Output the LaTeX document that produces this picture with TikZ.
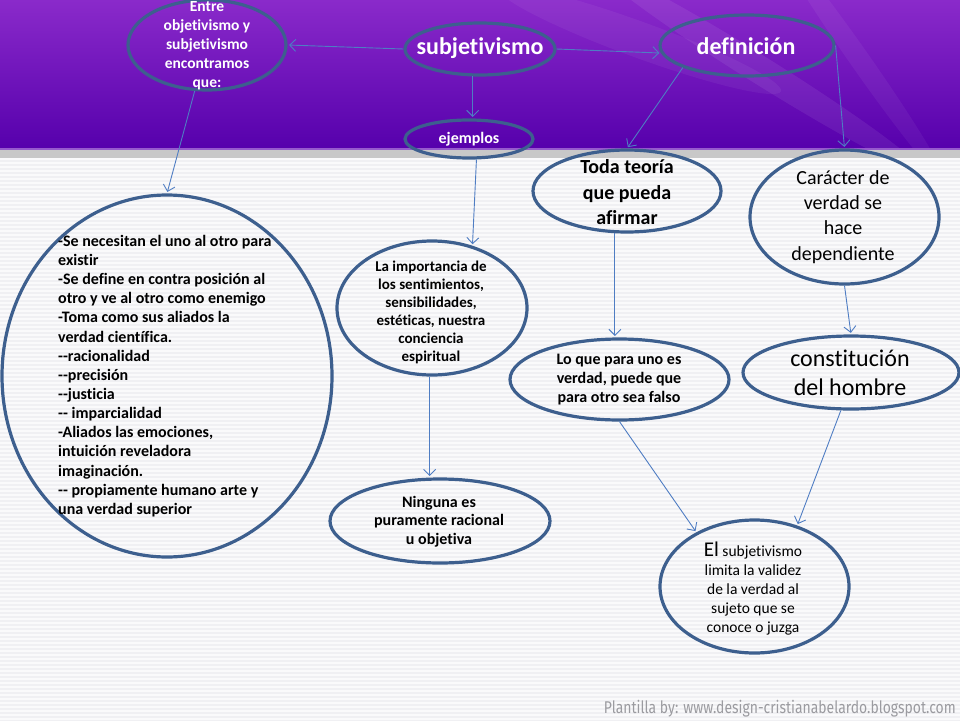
\documentclass[tikz,border=0pt]{standalone}
\usepackage{fontspec}
\setmainfont{Carlito}[Ligatures={NoCommon}]
\newfontfamily\creditfont{Fira Sans}
\usetikzlibrary{shapes.geometric,arrows.meta}
\definecolor{ellc}{RGB}{61,95,142}
\definecolor{arrc}{RGB}{79,125,195}
\definecolor{purtop}{RGB}{138,42,202}
\definecolor{purbot}{RGB}{86,0,172}
\definecolor{purline}{RGB}{150,90,205}
\definecolor{bandc}{RGB}{200,200,200}
\definecolor{pagec}{RGB}{250,250,251}
\definecolor{stripec}{RGB}{240,240,243}
\definecolor{creditc}{RGB}{155,155,160}
\tikzset{
  ell/.style={ellipse, draw=ellc, line width=3.2pt, inner sep=0pt},
  arr/.style={draw=arrc, line width=0.9pt, -{Straight Barb[length=6pt,width=12pt]}, shorten >=1.5pt},
  wtxt/.style={align=center, text=white, inner sep=0pt},
  btxt/.style={align=center, text=black, inner sep=0pt}
}
\begin{document}
\begin{tikzpicture}[x=1pt,y=-1pt]
\useasboundingbox (0,0) rectangle (960,720);
% background
\fill[pagec] (0,0) rectangle (960,720);
\foreach \i in {0,...,140} \fill[stripec] (0,{160+4*\i}) rectangle (960,{162+4*\i});
\shade[top color=purtop, bottom color=purbot] (0,0) rectangle (960,149);
\begin{scope}
\clip (0,0) rectangle (960,147);
\fill[white, opacity=0.07, rotate around={-32:(760,70)}] (760,70) ellipse (190pt and 14pt);
\fill[white, opacity=0.05, rotate around={-55:(860,60)}] (860,60) ellipse (150pt and 10pt);
\fill[white, opacity=0.05, rotate around={-20:(640,40)}] (640,40) ellipse (150pt and 18pt);
\end{scope}
\fill[purline] (0,147.5) rectangle (960,149.5);
\fill[bandc] (0,149.5) rectangle (960,158);

% ellipses
\node[ell, minimum width=158pt, minimum height=90pt] (entre) at (207,45) {};
\node[ell, minimum width=150pt, minimum height=52pt] (subj) at (480,49) {};
\node[ell, minimum width=174pt, minimum height=61pt] (def) at (747,45.5) {};
\node[ell, minimum width=128pt, minimum height=38pt] (ejem) at (469,139) {};
\node[ell, minimum width=330pt, minimum height=362pt] (big) at (167,376) {};
\node[ell, minimum width=190pt, minimum height=134pt] (imp) at (432,308) {};
\node[ell, minimum width=220pt, minimum height=84pt] (nin) at (440,521) {};
\node[ell, minimum width=188pt, minimum height=82pt] (toda) at (627,191) {};
\node[ell, minimum width=189pt, minimum height=134pt] (car) at (844.5,217) {};
\node[ell, minimum width=219pt, minimum height=81pt] (lo) at (619.5,379.5) {};
\node[ell, minimum width=216pt, minimum height=73pt] (cons) at (851,372.5) {};
\node[ell, minimum width=189pt, minimum height=133pt] (el) at (754.5,586.5) {};

% texts
\node[wtxt, font=\fontsize{15.5}{19}\selectfont\bfseries] (tentre) at (207,46) {Entre\\objetivismo y\\subjetivismo\\encontramos\\que:};
\node[wtxt, font=\fontsize{24}{28}\selectfont\bfseries] (tsubj) at (480,48) {subjetivismo};
\node[wtxt, font=\fontsize{24}{28}\selectfont\bfseries] (tdef) at (746,46) {definición};
\node[wtxt, font=\fontsize{16}{19}\selectfont\bfseries] (tejem) at (469,139) {ejemplos};
\node[btxt, align=left, anchor=west, font=\fontsize{16}{19.14}\selectfont\bfseries] (tbig) at (58,376) {-Se necesitan el uno al otro para\\existir\\-Se define en contra posición al\\otro y ve al otro como enemigo\\-Toma como sus aliados la\\verdad científica.\\-{}-racionalidad\\-{}-precisión\\-{}-justicia\\-{}- imparcialidad\\-Aliados las emociones,\\intuición reveladora\\imaginación.\\-{}- propiamente humano arte y\\una verdad superior};
\node[btxt, font=\fontsize{15}{18}\selectfont\bfseries] (timp) at (431,312) {La importancia de\\los sentimientos,\\sensibilidades,\\estéticas, nuestra\\conciencia\\espiritual};
\node[btxt, font=\fontsize{16}{18.5}\selectfont\bfseries] (tnin) at (439,521.5) {Ninguna es\\puramente racional\\u objetiva};
\node[btxt, font=\fontsize{20}{25.5}\selectfont\bfseries] (ttoda) at (627,192.5) {Toda teoría\\que pueda\\afirmar};
\node[btxt, font=\fontsize{20}{25.3}\selectfont] (tcar) at (843,217) {Carácter de\\verdad se\\hace\\dependiente};
\node[btxt, font=\fontsize{16}{18.7}\selectfont\bfseries] (tlo) at (619,379.5) {Lo que para uno es\\verdad, puede que\\para otro sea falso};
\node[btxt, font=\fontsize{24}{29}\selectfont] (tcons) at (850,372.5) {constitución\\del hombre};
\node[btxt, font=\fontsize{15.5}{19}\selectfont] (tel) at (753,589) {{\fontsize{21}{23}\selectfont El} subjetivismo\\limita la validez\\de la verdad al\\sujeto que se\\conoce o juzga};

% connectors
\draw[arr] (subj.180) -- (entre.0);
\draw[arr] (subj.0) -- (def.185);
\draw[arr] (subj.255) -- (subj.255 |- ejem.north);
\draw[arr] (entre.255) -- (big.north);
\draw[arr] (ejem.290) -- (imp.57);
\draw[arr] (imp.268) -- (imp.268 |- nin.north);
\draw[arr] (def.199) -- (toda.north);
\draw[arr] (def.east) -- (car.north);
\draw[arr] (toda.254) -- (toda.254 |- lo.north);
\draw[arr] (car.south) -- (cons.north);
\draw[arr] (lo.south) -- (el.137);
\draw[arr] (cons.255) -- (el.55);

% credit
\node[anchor=east, text=creditc, inner sep=0pt] (credit) at (956,709) {\scalebox{0.82}[1]{\creditfont\fontsize{17}{20}\selectfont Plantilla by: www.design-cristianabelardo.blogspot.com}};
\end{tikzpicture}
\end{document}
